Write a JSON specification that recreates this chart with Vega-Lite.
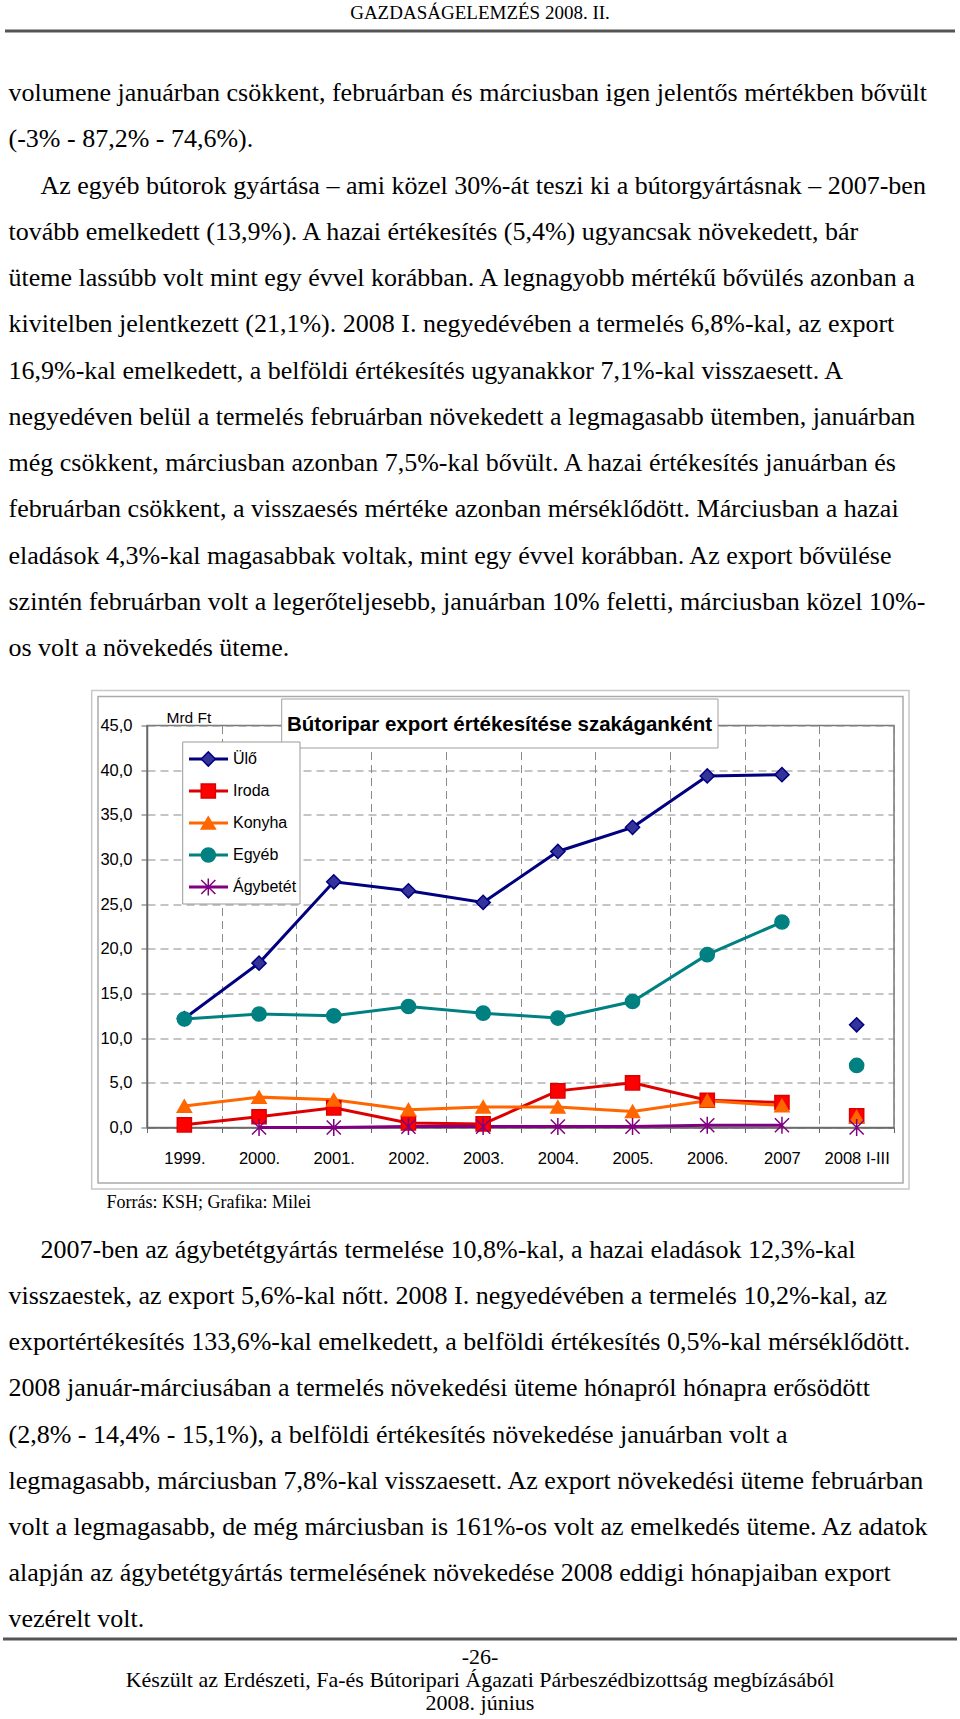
{
  "$schema": "https://vega.github.io/schema/vega-lite/v6.json",
  "width": 747,
  "height": 402,
  "autosize": {"type": "none"},
  "padding": {"left": 147, "top": 725.5, "right": 66, "bottom": 591.5},
  "background": "white",
  "config": {"view": {"stroke": "#777777", "strokeWidth": 1.5}},
  "datasets": {
    "series": [
      {"series": "Ülő", "year": "1999.", "value": 12.2},
      {"series": "Ülő", "year": "2000.", "value": 18.4},
      {"series": "Ülő", "year": "2001.", "value": 27.5},
      {"series": "Ülő", "year": "2002.", "value": 26.5},
      {"series": "Ülő", "year": "2003.", "value": 25.2},
      {"series": "Ülő", "year": "2004.", "value": 30.9},
      {"series": "Ülő", "year": "2005.", "value": 33.6},
      {"series": "Ülő", "year": "2006.", "value": 39.35},
      {"series": "Ülő", "year": "2007", "value": 39.5},
      {"series": "Ülő", "year": "2008 I-III", "value": 11.5},
      {"series": "Iroda", "year": "1999.", "value": 0.3},
      {"series": "Iroda", "year": "2000.", "value": 1.2},
      {"series": "Iroda", "year": "2001.", "value": 2.2},
      {"series": "Iroda", "year": "2002.", "value": 0.5},
      {"series": "Iroda", "year": "2003.", "value": 0.4},
      {"series": "Iroda", "year": "2004.", "value": 4.1},
      {"series": "Iroda", "year": "2005.", "value": 5.0},
      {"series": "Iroda", "year": "2006.", "value": 3.05},
      {"series": "Iroda", "year": "2007", "value": 2.8},
      {"series": "Iroda", "year": "2008 I-III", "value": 1.3},
      {"series": "Konyha", "year": "1999.", "value": 2.4},
      {"series": "Konyha", "year": "2000.", "value": 3.4},
      {"series": "Konyha", "year": "2001.", "value": 3.1},
      {"series": "Konyha", "year": "2002.", "value": 2.0},
      {"series": "Konyha", "year": "2003.", "value": 2.3},
      {"series": "Konyha", "year": "2004.", "value": 2.3},
      {"series": "Konyha", "year": "2005.", "value": 1.8},
      {"series": "Konyha", "year": "2006.", "value": 3.0},
      {"series": "Konyha", "year": "2007", "value": 2.45},
      {"series": "Konyha", "year": "2008 I-III", "value": 1.2},
      {"series": "Egyéb", "year": "1999.", "value": 12.15},
      {"series": "Egyéb", "year": "2000.", "value": 12.7},
      {"series": "Egyéb", "year": "2001.", "value": 12.5},
      {"series": "Egyéb", "year": "2002.", "value": 13.55},
      {"series": "Egyéb", "year": "2003.", "value": 12.8},
      {"series": "Egyéb", "year": "2004.", "value": 12.25},
      {"series": "Egyéb", "year": "2005.", "value": 14.1},
      {"series": "Egyéb", "year": "2006.", "value": 19.35},
      {"series": "Egyéb", "year": "2007", "value": 23.0},
      {"series": "Egyéb", "year": "2008 I-III", "value": 6.95},
      {"series": "Ágybetét", "year": "2000.", "value": 0.0},
      {"series": "Ágybetét", "year": "2001.", "value": 0.0},
      {"series": "Ágybetét", "year": "2002.", "value": 0.1},
      {"series": "Ágybetét", "year": "2003.", "value": 0.1},
      {"series": "Ágybetét", "year": "2004.", "value": 0.1},
      {"series": "Ágybetét", "year": "2005.", "value": 0.1},
      {"series": "Ágybetét", "year": "2006.", "value": 0.25},
      {"series": "Ágybetét", "year": "2007", "value": 0.25},
      {"series": "Ágybetét", "year": "2008 I-III", "value": 0.0}
    ],
    "page": [
      {"block": "header", "line": 1, "text": "GAZDASÁGELEMZÉS 2008. II."},
      {"block": "title", "line": 1, "text": "Bútoripar export értékesítése szakáganként"},
      {"block": "top", "line": 1, "text": "volumene januárban csökkent, februárban és márciusban igen jelentős mértékben bővült"},
      {"block": "top", "line": 2, "text": "(-3% - 87,2% - 74,6%)."},
      {"block": "top", "line": 3, "text": "Az egyéb bútorok gyártása – ami közel 30%-át teszi ki a bútorgyártásnak – 2007-ben"},
      {"block": "top", "line": 4, "text": "tovább emelkedett (13,9%). A hazai értékesítés (5,4%) ugyancsak növekedett, bár"},
      {"block": "top", "line": 5, "text": "üteme lassúbb volt mint egy évvel korábban. A legnagyobb mértékű bővülés azonban a"},
      {"block": "top", "line": 6, "text": "kivitelben jelentkezett (21,1%). 2008 I. negyedévében a termelés 6,8%-kal, az export"},
      {"block": "top", "line": 7, "text": "16,9%-kal emelkedett, a belföldi értékesítés ugyanakkor 7,1%-kal visszaesett. A"},
      {"block": "top", "line": 8, "text": "negyedéven belül a termelés februárban növekedett a legmagasabb ütemben, januárban"},
      {"block": "top", "line": 9, "text": "még csökkent, márciusban azonban 7,5%-kal bővült. A hazai értékesítés januárban és"},
      {"block": "top", "line": 10, "text": "februárban csökkent, a visszaesés mértéke azonban mérséklődött. Márciusban a hazai"},
      {"block": "top", "line": 11, "text": "eladások 4,3%-kal magasabbak voltak, mint egy évvel korábban. Az export bővülése"},
      {"block": "top", "line": 12, "text": "szintén februárban volt a legerőteljesebb, januárban 10% feletti, márciusban közel 10%-"},
      {"block": "top", "line": 13, "text": "os volt a növekedés üteme."},
      {"block": "source", "line": 1, "text": "Forrás: KSH; Grafika: Milei"},
      {"block": "bottom", "line": 1, "text": "2007-ben az ágybetétgyártás termelése 10,8%-kal, a hazai eladások 12,3%-kal"},
      {"block": "bottom", "line": 2, "text": "visszaestek, az export 5,6%-kal nőtt. 2008 I. negyedévében a termelés 10,2%-kal, az"},
      {"block": "bottom", "line": 3, "text": "exportértékesítés 133,6%-kal emelkedett, a belföldi értékesítés 0,5%-kal mérséklődött."},
      {"block": "bottom", "line": 4, "text": "2008 január-márciusában a termelés növekedési üteme hónapról hónapra erősödött"},
      {"block": "bottom", "line": 5, "text": "(2,8% - 14,4% - 15,1%), a belföldi értékesítés növekedése januárban volt a"},
      {"block": "bottom", "line": 6, "text": "legmagasabb, márciusban 7,8%-kal visszaesett. Az export növekedési üteme februárban"},
      {"block": "bottom", "line": 7, "text": "volt a legmagasabb, de még márciusban is 161%-os volt az emelkedés üteme. Az adatok"},
      {"block": "bottom", "line": 8, "text": "alapján az ágybetétgyártás termelésének növekedése 2008 eddigi hónapjaiban export"},
      {"block": "bottom", "line": 9, "text": "vezérelt volt."},
      {"block": "footer", "line": 1, "text": "-26-"},
      {"block": "footer", "line": 2, "text": "Készült az Erdészeti, Fa-és Bútoripari Ágazati Párbeszédbizottság megbízásából"},
      {"block": "footer", "line": 3, "text": "2008. június"}
    ]
  },
  "layer": [
    {
      "data": {"values": [{}]},
      "mark": {"type": "rect", "fill": null, "stroke": "#c8c8c8", "strokeWidth": 1.5},
      "encoding": {"x": {"value": -55.3}, "x2": {"value": 762}, "y": {"value": -35}, "y2": {"value": 463.5}}
    },
    {
      "data": {"values": [{}]},
      "mark": {"type": "rect", "fill": null, "stroke": "#aaaaaa", "strokeWidth": 1.5},
      "encoding": {"x": {"value": -49}, "x2": {"value": 756}, "y": {"value": -29}, "y2": {"value": 457.5}}
    },
    {
      "data": {"name": "series"},
      "encoding": {
        "x": {
          "field": "year",
          "type": "ordinal",
          "scale": {
            "type": "band",
            "domain": ["1999.", "2000.", "2001.", "2002.", "2003.", "2004.", "2005.", "2006.", "2007", "2008 I-III"],
            "paddingInner": 0,
            "paddingOuter": 0
          },
          "axis": {
            "title": null,
            "labelAngle": 0,
            "labelFont": "Liberation Sans",
            "labelFontSize": 16.5,
            "labelColor": "#000000",
            "labelPadding": 18,
            "tickBand": "extent",
            "tickSize": 5,
            "tickColor": "#666666",
            "domainColor": "#666666",
            "domainWidth": 1.5,
            "grid": true,
            "gridColor": "#8a8a8a",
            "gridDash": [8, 5],
            "gridWidth": 1
          }
        },
        "y": {
          "field": "value",
          "type": "quantitative",
          "scale": {"domain": [0, 45], "nice": false, "zero": false},
          "axis": {
            "values": [0, 5, 10, 15, 20, 25, 30, 35, 40, 45],
            "labelExpr": "replace(format(datum.value, '.1f'), '.', ',')",
            "labelFont": "Liberation Sans",
            "labelFontSize": 16.5,
            "labelColor": "#000000",
            "labelPadding": 9,
            "tickSize": 6,
            "tickColor": "#666666",
            "domainColor": "#666666",
            "domainWidth": 1.5,
            "grid": true,
            "gridColor": "#8a8a8a",
            "gridDash": [8, 5],
            "gridWidth": 1,
            "title": "Mrd Ft",
            "titleAngle": 0,
            "titleAlign": "left",
            "titleBaseline": "middle",
            "titleX": 19,
            "titleY": -8,
            "titleFont": "Liberation Sans",
            "titleFontSize": 15.5,
            "titleFontWeight": "normal",
            "titleColor": "#000000"
          }
        }
      },
      "layer": [
        {
          "transform": [{"filter": "datum.year !== '2008 I-III'"}],
          "mark": {"type": "line", "strokeWidth": 3},
          "encoding": {
            "stroke": {
              "field": "series",
              "type": "nominal",
              "scale": {
                "domain": ["Ülő", "Iroda", "Konyha", "Egyéb", "Ágybetét"],
                "range": ["#000080", "#dd0000", "#ff6600", "#008080", "#800080"]
              },
              "legend": null
            }
          }
        },
        {
          "mark": {"type": "point", "filled": true, "size": 200, "opacity": 1, "strokeWidth": 1.5},
          "encoding": {
            "color": {
              "field": "series",
              "type": "nominal",
              "scale": {
                "domain": ["Ülő", "Iroda", "Konyha", "Egyéb", "Ágybetét"],
                "range": ["#333399", "#ff0000", "#ff6600", "#008080", "#800080"]
              },
              "legend": null
            },
            "shape": {
              "field": "series",
              "type": "nominal",
              "scale": {
                "domain": ["Ülő", "Iroda", "Konyha", "Egyéb", "Ágybetét"],
                "range": ["diamond", "square", "triangle-up", "circle", "M-1,-1L1,1M-1,1L1,-1M0,-1.2L0,1.2"]
              },
              "legend": null
            },
            "stroke": {"field": "series", "type": "nominal", "legend": null}
          }
        }
      ]
    },
    {
      "data": {"values": [{}]},
      "mark": {"type": "rect", "fill": "white", "stroke": "#a0a0a0", "strokeWidth": 1},
      "encoding": {"x": {"value": 134.7}, "x2": {"value": 571}, "y": {"value": -26.5}, "y2": {"value": 22.5}}
    },
    {
      "data": {"values": [{}]},
      "mark": {"type": "rect", "fill": "white", "stroke": "#999999", "strokeWidth": 1},
      "encoding": {"x": {"value": 35.7}, "x2": {"value": 153}, "y": {"value": 16.5}, "y2": {"value": 178.5}}
    },
    {
      "data": {"name": "series"},
      "transform": [{"aggregate": [{"op": "count", "as": "n"}], "groupby": ["series"]}],
      "encoding": {
        "y": {
          "field": "series",
          "type": "nominal",
          "scale": {"type": "point", "domain": ["Ülő", "Iroda", "Konyha", "Egyéb", "Ágybetét"], "range": [33.5, 161.5], "padding": 0},
          "axis": null
        }
      },
      "layer": [
        {
          "mark": {"type": "rule", "strokeWidth": 3},
          "encoding": {
            "x": {"value": 42},
            "x2": {"value": 81},
            "stroke": {"field": "series", "type": "nominal", "legend": null}
          }
        },
        {
          "mark": {"type": "point", "filled": true, "size": 200, "opacity": 1, "strokeWidth": 1.5},
          "encoding": {
            "x": {"value": 61.3},
            "color": {"field": "series", "type": "nominal", "legend": null},
            "shape": {"field": "series", "type": "nominal", "legend": null},
            "stroke": {"field": "series", "type": "nominal", "legend": null}
          }
        },
        {
          "mark": {"type": "text", "font": "Liberation Sans", "fontSize": 16, "align": "left", "baseline": "middle", "color": "#000000"},
          "encoding": {
            "x": {"value": 86},
            "text": {"field": "series"}
          }
        }
      ]
    },
    {
      "data": {"name": "page"},
      "transform": [{"filter": "datum.block === 'title'"}],
      "mark": {"type": "text", "font": "Liberation Sans", "fontSize": 20.5, "fontWeight": "bold", "align": "left", "baseline": "alphabetic", "color": "#000000"},
      "encoding": {
        "text": {"field": "text"},
        "x": {"value": 140},
        "y": {"field": "line", "type": "quantitative", "scale": {"domain": [0, 2], "range": [-15, 25], "nice": false, "zero": false}, "axis": null}
      }
    },
    {
      "data": {"values": [{}]},
      "mark": {"type": "rule", "stroke": "#555555", "strokeWidth": 3},
      "encoding": {"x": {"value": -142}, "x2": {"value": 808}, "y": {"value": -694.5}}
    },
    {
      "data": {"values": [{}]},
      "mark": {"type": "rule", "stroke": "#555555", "strokeWidth": 3},
      "encoding": {"x": {"value": -144}, "x2": {"value": 810}, "y": {"value": 913.5}}
    },
    {
      "data": {"name": "page"},
      "transform": [{"filter": "datum.block === 'header'"}],
      "mark": {"type": "text", "font": "Liberation Serif", "fontSize": 19, "align": "center", "baseline": "middle", "color": "#000000"},
      "encoding": {
        "text": {"field": "text"},
        "x": {"value": 333},
        "y": {"field": "line", "type": "quantitative", "scale": {"domain": [0, 2], "range": [-732.5, -692.5], "nice": false, "zero": false}, "axis": null}
      }
    },
    {
      "data": {"name": "page"},
      "transform": [{"filter": "datum.block === 'top' && datum.line !== 3"}],
      "mark": {"type": "text", "font": "Liberation Serif", "fontSize": 26, "align": "left", "baseline": "middle", "color": "#000000"},
      "encoding": {
        "text": {"field": "text"},
        "x": {"value": -138.5},
        "y": {"field": "line", "type": "quantitative", "scale": {"domain": [1, 13], "range": [-632.5, -77.5], "nice": false, "zero": false}, "axis": null}
      }
    },
    {
      "data": {"name": "page"},
      "transform": [{"filter": "datum.block === 'top' && datum.line === 3"}],
      "mark": {"type": "text", "font": "Liberation Serif", "fontSize": 26, "align": "left", "baseline": "middle", "color": "#000000"},
      "encoding": {
        "text": {"field": "text"},
        "x": {"value": -106.5},
        "y": {"field": "line", "type": "quantitative", "scale": {"domain": [1, 13], "range": [-632.5, -77.5], "nice": false, "zero": false}, "axis": null}
      }
    },
    {
      "data": {"name": "page"},
      "transform": [{"filter": "datum.block === 'source'"}],
      "mark": {"type": "text", "font": "Liberation Serif", "fontSize": 18, "align": "left", "baseline": "middle", "color": "#000000"},
      "encoding": {
        "text": {"field": "text"},
        "x": {"value": -40.5},
        "y": {"field": "line", "type": "quantitative", "scale": {"domain": [0, 2], "range": [457, 497], "nice": false, "zero": false}, "axis": null}
      }
    },
    {
      "data": {"name": "page"},
      "transform": [{"filter": "datum.block === 'bottom' && datum.line !== 1"}],
      "mark": {"type": "text", "font": "Liberation Serif", "fontSize": 26, "align": "left", "baseline": "middle", "color": "#000000"},
      "encoding": {
        "text": {"field": "text"},
        "x": {"value": -138.5},
        "y": {"field": "line", "type": "quantitative", "scale": {"domain": [1, 9], "range": [524.5, 893.5], "nice": false, "zero": false}, "axis": null}
      }
    },
    {
      "data": {"name": "page"},
      "transform": [{"filter": "datum.block === 'bottom' && datum.line === 1"}],
      "mark": {"type": "text", "font": "Liberation Serif", "fontSize": 26, "align": "left", "baseline": "middle", "color": "#000000"},
      "encoding": {
        "text": {"field": "text"},
        "x": {"value": -106.5},
        "y": {"field": "line", "type": "quantitative", "scale": {"domain": [1, 9], "range": [524.5, 893.5], "nice": false, "zero": false}, "axis": null}
      }
    },
    {
      "data": {"name": "page"},
      "transform": [{"filter": "datum.block === 'footer'"}],
      "mark": {"type": "text", "font": "Liberation Serif", "fontSize": 22, "align": "center", "baseline": "middle", "color": "#000000"},
      "encoding": {
        "text": {"field": "text"},
        "x": {"value": 333},
        "y": {"field": "line", "type": "quantitative", "scale": {"domain": [1, 3], "range": [931.5, 977.5], "nice": false, "zero": false}, "axis": null}
      }
    }
  ],
  "resolve": {"scale": {"y": "independent"}}
}
